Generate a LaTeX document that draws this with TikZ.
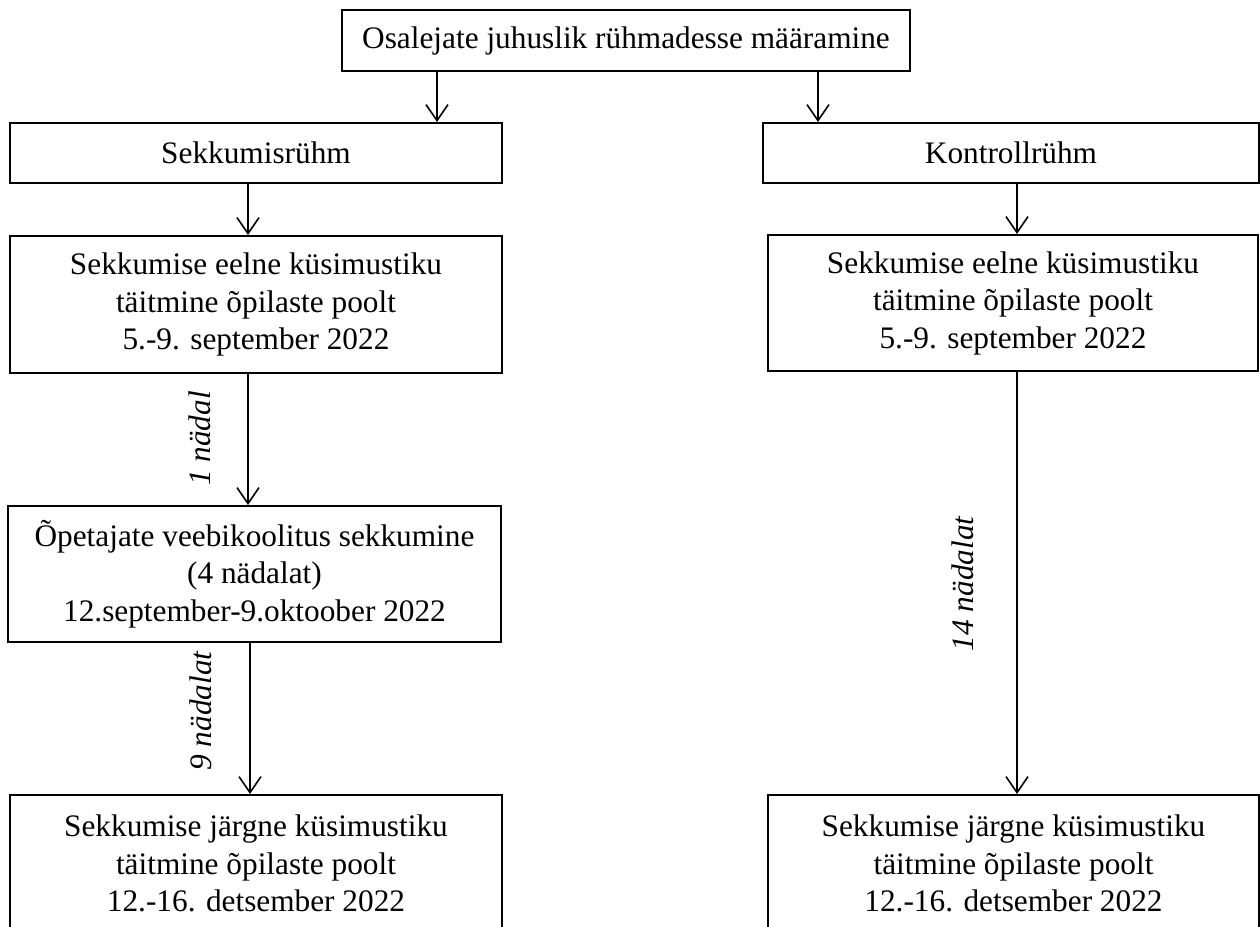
\documentclass[tikz,border=0pt]{standalone}
\usepackage{fontspec}
\setmainfont{Liberation Serif}
\usetikzlibrary{arrows.meta}
\begin{document}
\begin{tikzpicture}[x=1pt,y=-1pt,
  box/.style={draw, line width=2pt, inner sep=0pt, align=center,
    font=\fontsize{31.3}{37.5}\selectfont},
  arr/.style={line width=1.6pt, -{Straight Barb[length=16pt,width=22pt,line width=1.6pt]}},
  lbl/.style={font=\fontsize{31.3}{37.5}\selectfont\itshape, rotate=90, inner sep=0pt, anchor=base}]
\useasboundingbox (0,0) rectangle (1260,926);
\clip (0,0) rectangle (1260,926);
% boxes
\node[box, minimum width=568pt, minimum height=61pt] (top) at (626,40.5) {Osalejate juhuslik rühmadesse määramine};
\node[box, minimum width=492pt, minimum height=60pt] (sek) at (256,153) {Sekkumisrühm};
\node[box, minimum width=496pt, minimum height=60pt] (kon) at (1011,153) {Kontrollrühm};
\node[box, minimum width=492pt, minimum height=137pt] (pre1) at (256,304.5) {Sekkumise eelne küsimustiku\\täitmine õpilaste poolt\\5.-9. september 2022};
\node[box, minimum width=490pt, minimum height=136pt] (pre2) at (1013,303) {Sekkumise eelne küsimustiku\\täitmine õpilaste poolt\\5.-9. september 2022};
\node[box, minimum width=493pt, minimum height=136pt] (web) at (254.5,574) {Õpetajate veebikoolitus sekkumine\\(4 nädalat)\\12.september-9.oktoober 2022};
\node[box, minimum width=492pt, minimum height=137pt] (post1) at (256,863.5) {Sekkumise järgne küsimustiku\\täitmine õpilaste poolt\\12.-16. detsember 2022};
\node[box, minimum width=491pt, minimum height=137pt] (post2) at (1013.5,863.5) {Sekkumise järgne küsimustiku\\täitmine õpilaste poolt\\12.-16. detsember 2022};
% arrow columns
\coordinate (xa) at (437,0);
\coordinate (xb) at (818,0);
\coordinate (xc) at (248,0);
\coordinate (xd) at (1017,0);
\coordinate (xe) at (250,0);
% connectors
\draw[arr] (top.south -| xa) -- (sek.north -| xa);
\draw[arr] (top.south -| xb) -- (kon.north -| xb);
\draw[arr] (sek.south -| xc) -- (pre1.north -| xc);
\draw[arr] (kon.south -| xd) -- (pre2.north -| xd);
\draw[arr] (pre1.south -| xc) -- (web.north -| xc);
\draw[arr] (web.south -| xe) -- (post1.north -| xe);
\draw[arr] (pre2.south -| xd) -- (post2.north -| xd);
% labels
\node[lbl] (l1) at (210,438.5) {1 nädal};
\node[lbl] (l2) at (211,711) {9 nädalat};
\node[lbl] (l3) at (973,584) {14 nädalat};
\end{tikzpicture}
\end{document}
